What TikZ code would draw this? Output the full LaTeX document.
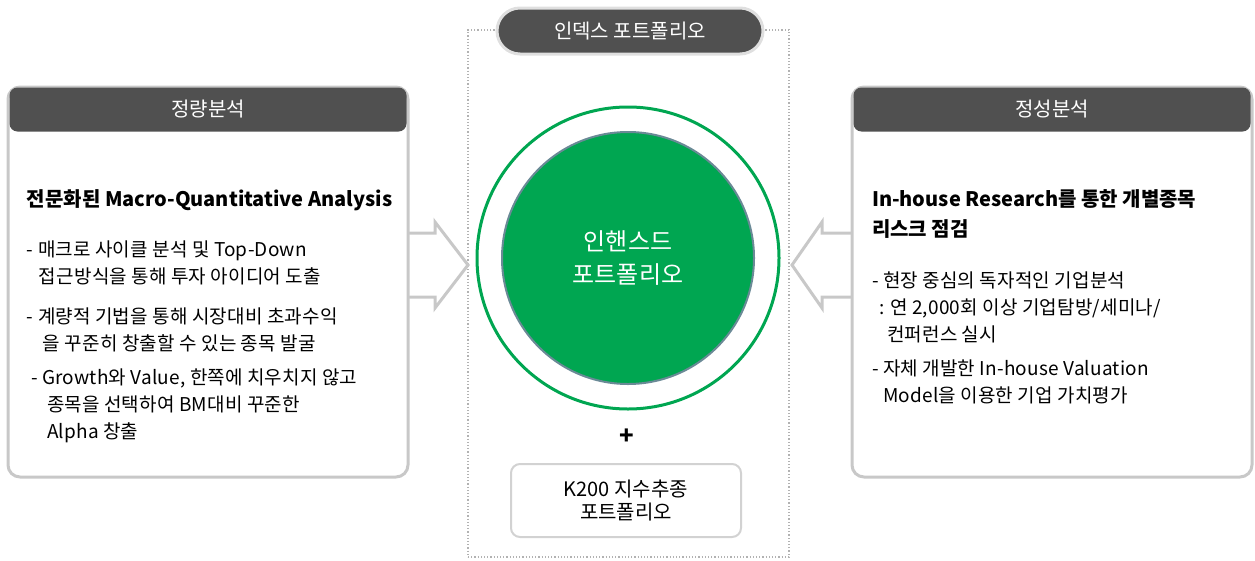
\documentclass[tikz,border=0pt]{standalone}
\usepackage{fontspec}
\setmainfont{Noto Sans CJK KR}
\usetikzlibrary{positioning, calc}
\definecolor{hdgray}{HTML}{505050}
\definecolor{rimgray}{HTML}{C8C8C8}
\definecolor{leafgreen}{HTML}{00A651}
\definecolor{slateedge}{HTML}{6A8A96}

\begin{document}
\begin{tikzpicture}[x=1pt, y=-1pt,
every node/.style = {inner sep=0pt, outer sep=0pt},
panel/.style = {draw=rimgray, line width=3pt, fill=white, rounded corners=12pt,
                minimum width=400pt, minimum height=390pt},
header/.style = {fill=hdgray, rounded corners=8pt, minimum width=397pt, minimum height=44pt,
                 text=white, font=\fontsize{20}{22}\selectfont},
title/.style = {anchor=north west, align=left, font=\bfseries\fontsize{20}{30}\selectfont},
bullet/.style = {anchor=north west, align=left,
                 font=\addfontfeatures{LetterSpace=1}\fontsize{19}{27}\selectfont},
blockarrow/.style = {draw=rimgray, line width=3pt, line join=miter}]
\useasboundingbox (0,0) rectangle (1255,560);

% side panels
\node[panel] (quant) at (208,282) {};
\node[panel] (qual) at (1052,282) {};
\node[header] (quanthead) at (208,109.5) {정량분석};
\node[header] (qualhead) at (1052,109.5) {정성분석};

\node[title] (quanttitle) at (27,190) {전문화된 Macro-Quantitative Analysis};
\node[bullet] (q1) at (27,241) {- 매크로 사이클 분석 및 Top-Down\\ \hspace*{12pt}접근방식을 통해 투자 아이디어 도출};
\node[bullet] (q2) at (27,308) {- 계량적 기법을 통해 시장대비 초과수익\\ \hspace*{16pt}을 꾸준히 창출할 수 있는 종목 발굴};
\node[bullet] (q3) at (31,369) {- Growth와 Value, 한쪽에 치우치지 않고\\ \hspace*{16pt}종목을 선택하여 BM대비 꾸준한\\ \hspace*{16pt}Alpha 창출};

\node[title] (qualtitle) at (872,190) {In-house Research를 통한 개별종목\\리스크 점검};
\node[bullet] (r1) at (872,272) {- 현장 중심의 독자적인 기업분석\\ \hspace*{7pt}: 연 2,000회 이상 기업탐방/세미나/\\ \hspace*{15pt}컨퍼런스 실시};
\node[bullet] (r2) at (872,360) {- 자체 개발한 In-house Valuation\\ \hspace*{11pt}Model을 이용한 기업 가치평가};

% centre column
\node[draw=gray!60, dotted, line width=1.2pt, minimum width=321pt, minimum height=527pt] (frame) at (628.5,293.5) {};
\node[fill=hdgray, draw=gray!25, line width=3pt, rounded corners=23pt, minimum width=266pt, minimum height=46pt,
      text=white, font=\fontsize{20}{22}\selectfont] (index) at (630,31) {인덱스 포트폴리오};

\node[circle, draw=leafgreen, line width=3pt, minimum size=302pt] (outer) at (628,258) {};
\node[circle, fill=leafgreen, draw=slateedge, line width=2pt, minimum size=252pt,
      text=white, align=center, font=\fontsize{24}{33}\selectfont] (enhanced) at (628,258) {인핸스드\\포트폴리오};

\node[font=\bfseries\fontsize{24}{24}\selectfont] (plus) at (627,437) {+};
\node[draw=gray!35, line width=2pt, fill=white, rounded corners=9pt, minimum width=230pt, minimum height=73pt,
      align=center, font=\fontsize{20}{23}\selectfont] (k200) at (626,500.5) {K200 지수추종\\포트폴리오};

% hollow arrows into the centre
\coordinate (qtip) at (468,265);
\coordinate (rtip) at (792,265);
\draw[blockarrow] (quant.east |- 0,233) -- ++(27,0) -- ++(0,-11) -- (qtip) -- ++(-33,43) -- ++(0,-11) -- (quant.east |- 0,297);
\draw[blockarrow] (qual.west |- 0,233) -- ++(-30,0) -- ++(0,-11) -- (rtip) -- ++(30,43) -- ++(0,-11) -- (qual.west |- 0,297);
\end{tikzpicture}
\end{document}
